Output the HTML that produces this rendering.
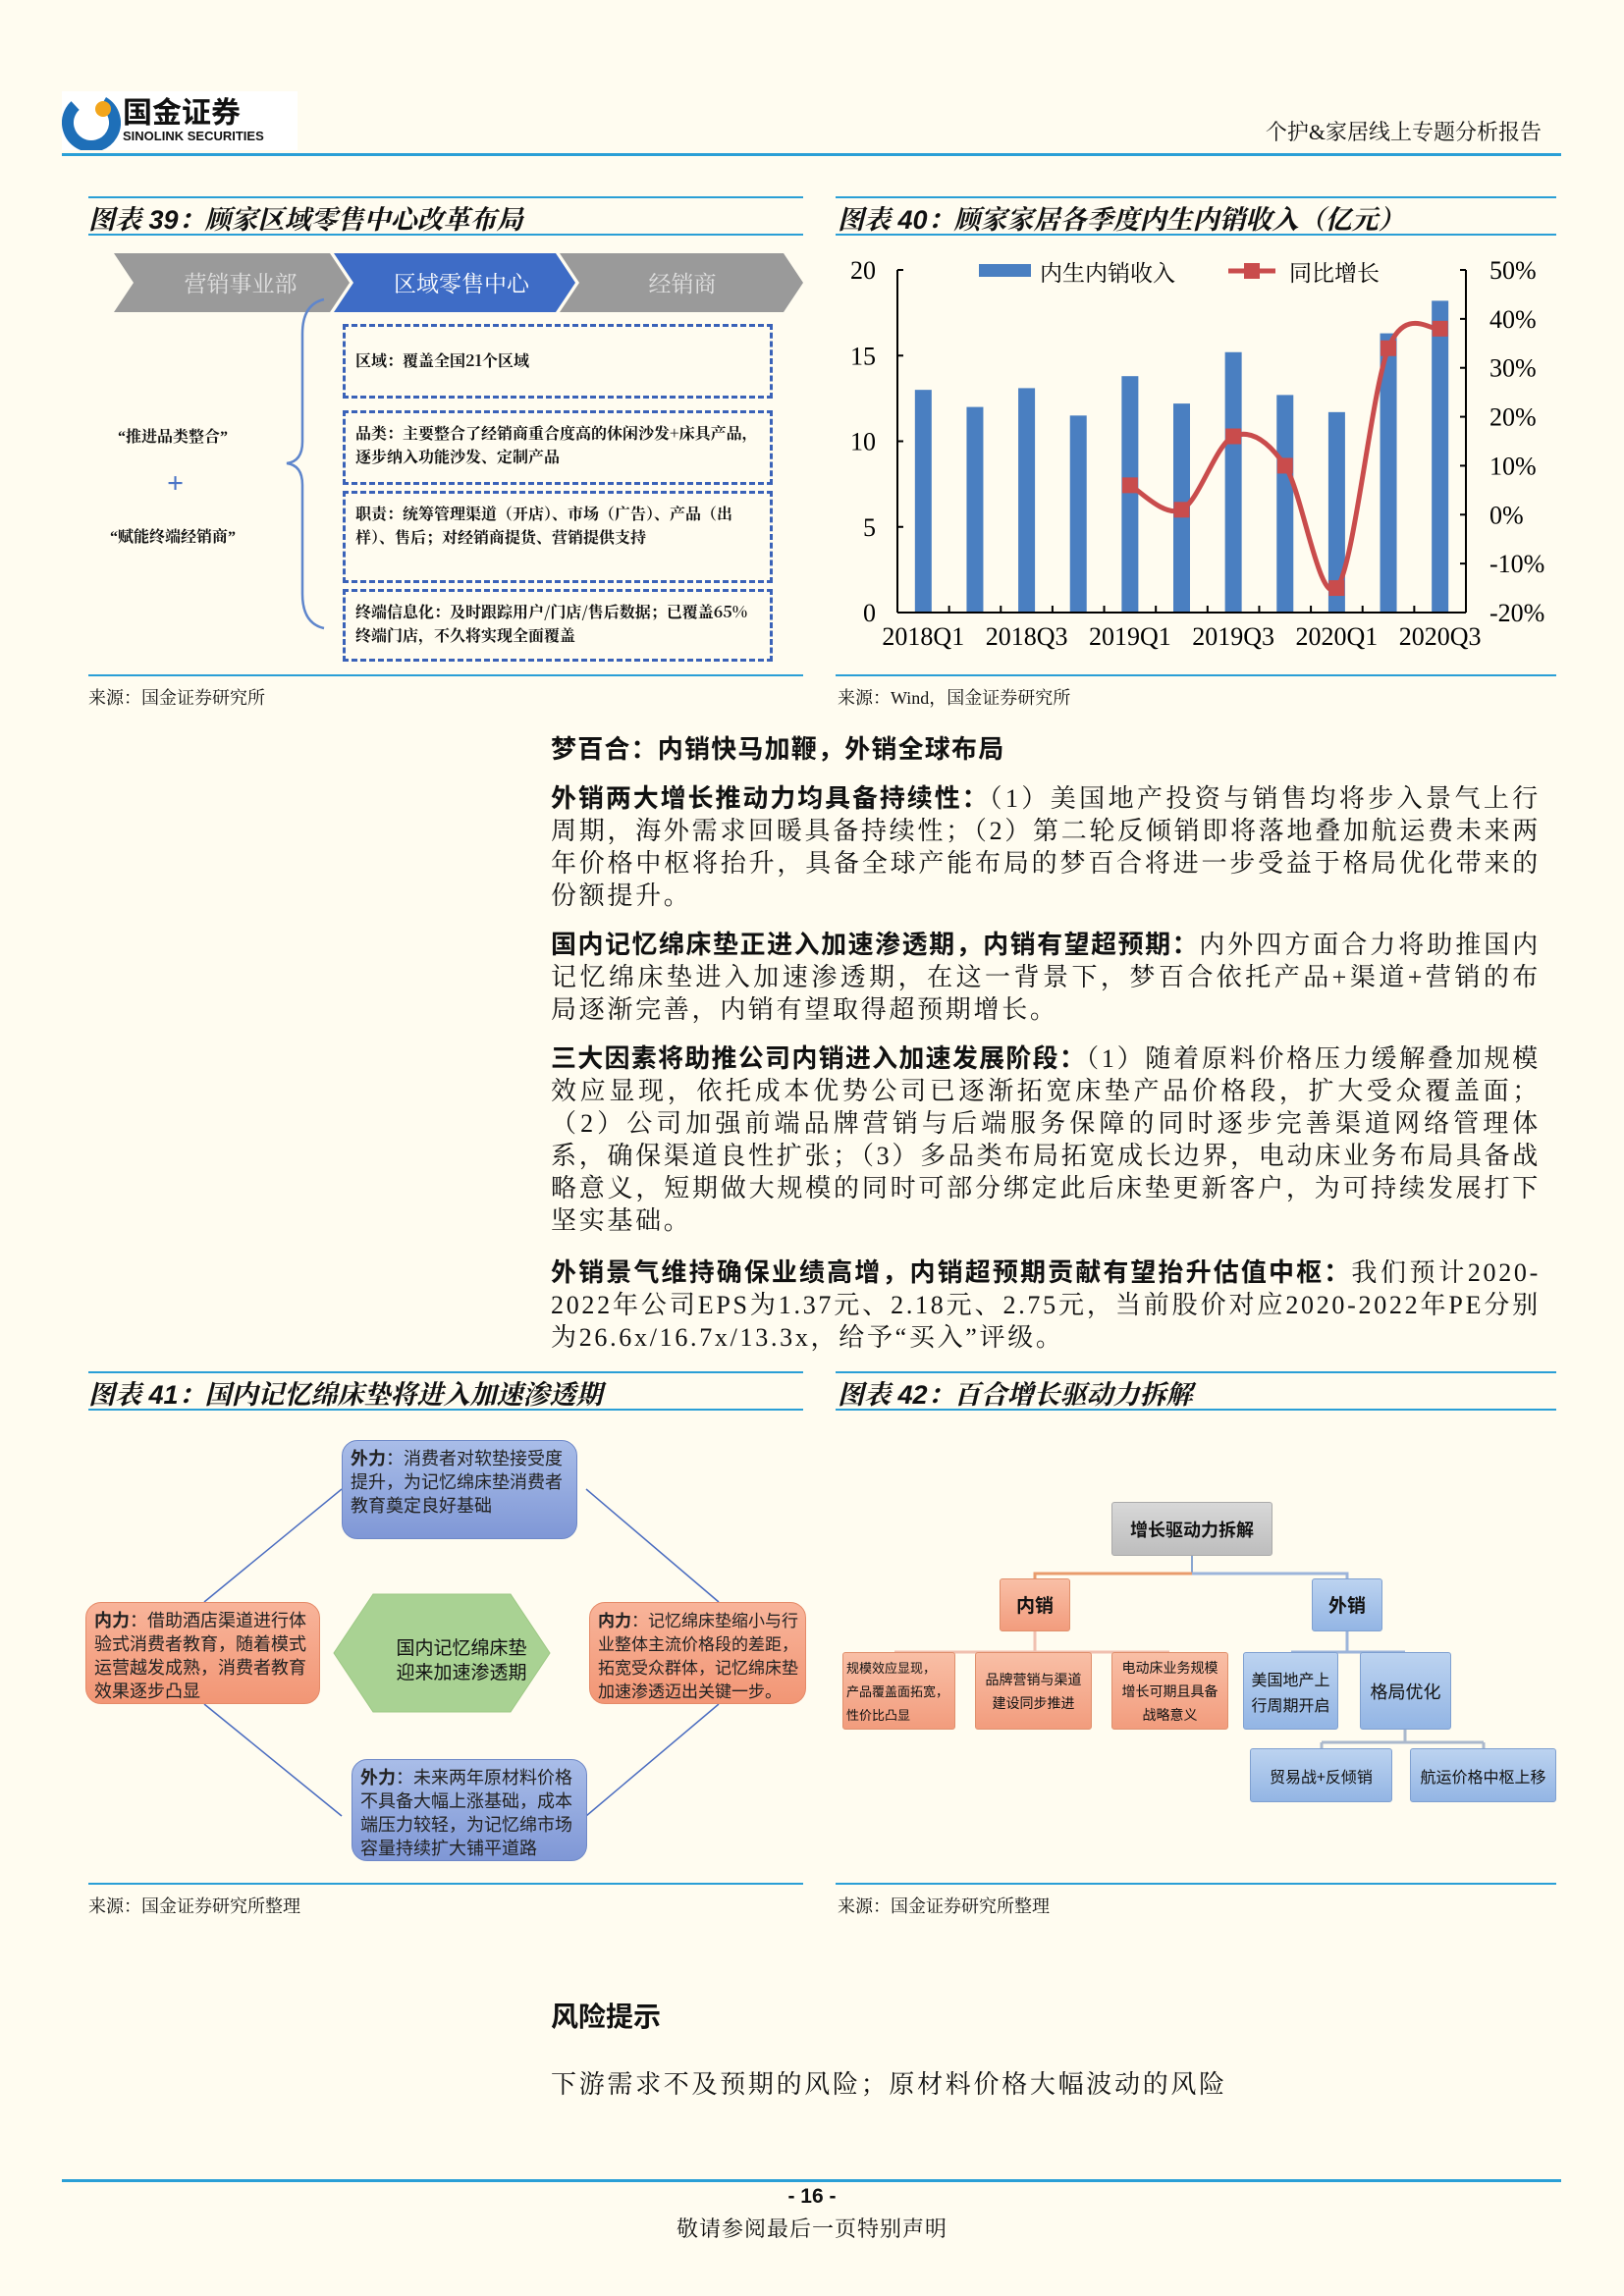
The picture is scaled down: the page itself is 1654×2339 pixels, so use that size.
<!DOCTYPE html>
<html><head><meta charset="utf-8">
<style>
*{margin:0;padding:0;box-sizing:border-box}
body{width:1654px;height:2339px;background:#fffcf0;position:relative;overflow:hidden;font-family:"Liberation Serif","Noto Serif CJK SC",serif;color:#111}
.abs{position:absolute}
.hline{position:absolute;height:2px;background:#2a9fd6}
.ttl{position:absolute;font-family:"Liberation Sans","Noto Serif CJK SC",serif;font-weight:bold;font-style:italic;font-size:27px;white-space:nowrap}
.src{position:absolute;font-size:18px;white-space:nowrap}
.para{position:absolute;left:561px;width:1008px;font-size:26px;line-height:33px;text-align:justify;letter-spacing:2.7px}
.para b{font-family:"Noto Sans CJK SC",sans-serif;font-weight:bold;letter-spacing:1.2px}
.dbox{position:absolute;left:349px;width:438px;border:3px dashed #3a62b8;font-size:16px;font-weight:bold;padding:8px 10px;line-height:24px;font-family:"Noto Serif CJK SC",serif}
.rb{position:absolute;border-radius:16px;font-family:"Noto Sans CJK SC",sans-serif;font-size:18px;line-height:24px;padding:5px 8px;color:#222;overflow:hidden}
.blue{background:linear-gradient(#a9bde8,#7f97d6);border:1px solid #6e88c8}
.ora{background:linear-gradient(#f8b49a,#f29675);border:1px solid #e58a68}
.ob{position:absolute;background:linear-gradient(#f9bfa6,#f29c7d);border:1px solid #e0906c;font-family:"Noto Sans CJK SC",sans-serif;font-size:14px;line-height:24px;display:flex;align-items:center;justify-content:center;text-align:center;border-radius:3px}
.bb{position:absolute;background:linear-gradient(#bcd3f0,#93b5e4);border:1px solid #7fa0d0;font-family:"Noto Sans CJK SC",sans-serif;font-size:16px;line-height:26px;display:flex;align-items:center;justify-content:center;text-align:center;border-radius:3px}
</style></head><body>
<div class="abs" style="left:63px;top:93px;width:240px;height:60px;background:#fff">
<svg width="60" height="60" style="position:absolute;left:0;top:0"><circle cx="30" cy="32" r="24" fill="none" stroke="#1e6fb8" stroke-width="12" stroke-dasharray="120 40" transform="rotate(-60 30 32)"/><circle cx="42" cy="18" r="8" fill="#f2a51c"/></svg>
<div class="abs" style="left:62px;top:2px;font-family:'Noto Sans CJK SC',sans-serif;font-weight:bold;font-size:30px;line-height:34px">国金证券</div>
<div class="abs" style="left:62px;top:38px;font-family:'Liberation Sans',sans-serif;font-weight:bold;font-size:13px">SINOLINK SECURITIES</div>
</div>
<div class="abs" style="right:84px;top:118px;font-size:22px;white-space:nowrap">个护&amp;家居线上专题分析报告</div>
<div class="hline" style="left:63px;top:156px;width:1527px;height:3px"></div>

<div class="hline" style="left:90px;top:200px;width:728px"></div>
<div class="ttl" style="left:90px;top:202px">图表 39：顾家区域零售中心改革布局</div>
<div class="hline" style="left:90px;top:238px;width:728px"></div>
<svg class="abs" style="left:110px;top:255px" width="712" height="66">
<polygon points="6,3 226,3 246,33 226,63 6,63 26,33" fill="#9a9a9a"/>
<polygon points="230,3 456,3 476,33 456,63 230,63 250,33" fill="#3e6cc6"/>
<polygon points="460,3 688,3 708,33 688,63 460,63 480,33" fill="#9a9a9a"/>
<text x="135" y="42" fill="#e0e0e0" font-size="23" text-anchor="middle" font-family="Noto Serif CJK SC">营销事业部</text>
<text x="360" y="42" fill="#fff" font-size="23" text-anchor="middle" font-family="Noto Serif CJK SC">区域零售中心</text>
<text x="585" y="42" fill="#e0e0e0" font-size="23" text-anchor="middle" font-family="Noto Serif CJK SC">经销商</text>
</svg>
<div class="dbox" style="top:330px;height:76px;padding-top:22px">区域：覆盖全国21个区域</div>
<div class="dbox" style="top:418px;height:76px">品类：主要整合了经销商重合度高的休闲沙发+床具产品，逐步纳入功能沙发、定制产品</div>
<div class="dbox" style="top:500px;height:94px">职责：统筹管理渠道（开店）、市场（广告）、产品（出样）、售后；对经销商提货、营销提供支持</div>
<div class="dbox" style="top:600px;height:74px">终端信息化：及时跟踪用户/门店/售后数据；已覆盖65%终端门店，不久将实现全面覆盖</div>
<svg class="abs" style="left:290px;top:300px" width="50" height="345"><path d="M40,5 Q18,10 18,40 L18,150 Q18,170 2,172 Q18,174 18,194 L18,305 Q18,335 40,340" fill="none" stroke="#5f86cc" stroke-width="2.5"/></svg>
<div class="abs" style="left:120px;top:432px;font-size:16px;font-weight:bold">“推进品类整合”</div>
<div class="abs" style="left:170px;top:476px;font-size:30px;font-weight:bold;color:#4a74c6">+</div>
<div class="abs" style="left:112px;top:534px;font-size:16px;font-weight:bold">“赋能终端经销商”</div>
<div class="hline" style="left:90px;top:687px;width:728px"></div>
<div class="src" style="left:90px;top:697px">来源：国金证券研究所</div>

<div class="hline" style="left:851px;top:200px;width:734px"></div>
<div class="ttl" style="left:853px;top:202px">图表 40：顾家家居各季度内生内销收入（亿元）</div>
<div class="hline" style="left:851px;top:238px;width:734px"></div>
<svg id="c40" class="abs" style="left:851px;top:240px" width="740" height="440"></svg>
<div class="hline" style="left:851px;top:687px;width:734px"></div>
<div class="src" style="left:853px;top:697px">来源：Wind，国金证券研究所</div>

<div class="para" style="top:745px;letter-spacing:2px"><b>梦百合：内销快马加鞭，外销全球布局</b></div>
<div class="para" style="top:795px"><b>外销两大增长推动力均具备持续性：</b>（1）美国地产投资与销售均将步入景气上行周期，海外需求回暖具备持续性；（2）第二轮反倾销即将落地叠加航运费未来两年价格中枢将抬升，具备全球产能布局的梦百合将进一步受益于格局优化带来的份额提升。</div>
<div class="para" style="top:944px"><b>国内记忆绵床垫正进入加速渗透期，内销有望超预期：</b>内外四方面合力将助推国内记忆绵床垫进入加速渗透期，在这一背景下，梦百合依托产品+渠道+营销的布局逐渐完善，内销有望取得超预期增长。</div>
<div class="para" style="top:1060px"><b>三大因素将助推公司内销进入加速发展阶段：</b>（1）随着原料价格压力缓解叠加规模效应显现，依托成本优势公司已逐渐拓宽床垫产品价格段，扩大受众覆盖面；（2）公司加强前端品牌营销与后端服务保障的同时逐步完善渠道网络管理体系，确保渠道良性扩张；（3）多品类布局拓宽成长边界，电动床业务布局具备战略意义，短期做大规模的同时可部分绑定此后床垫更新客户，为可持续发展打下坚实基础。</div>
<div class="para" style="top:1278px"><b>外销景气维持确保业绩高增，内销超预期贡献有望抬升估值中枢：</b>我们预计2020-2022年公司EPS为1.37元、2.18元、2.75元，当前股价对应2020-2022年PE分别为26.6x/16.7x/13.3x，给予“买入”评级。</div>

<div class="hline" style="left:90px;top:1397px;width:728px"></div>
<div class="ttl" style="left:90px;top:1399px">图表 41：国内记忆绵床垫将进入加速渗透期</div>
<div class="hline" style="left:90px;top:1435px;width:728px"></div>
<svg class="abs" style="left:80px;top:1440px" width="760" height="480">
<path d="M128,192 L268,77 M517,77 L652,192 M652,296 L517,410 M128,296 L268,410" stroke="#4a6cc0" stroke-width="1.5" fill="none"/>
<polygon points="300,184 440,184 480,244 440,304 300,304 260,244" fill="#a9d293" stroke="#9cc884"/>
</svg>
<div class="rb blue" style="left:348px;top:1467px;width:240px;height:101px"><b>外力</b>：消费者对软垫接受度提升，为记忆绵床垫消费者教育奠定良好基础</div>
<div class="rb ora" style="left:87px;top:1632px;width:239px;height:104px"><b>内力</b>：借助酒店渠道进行体验式消费者教育，随着模式运营越发成熟，消费者教育效果逐步凸显</div>
<div class="abs" style="left:360px;top:1665px;width:220px;text-align:center;font-family:'Noto Sans CJK SC',sans-serif;font-size:19px;line-height:25px">国内记忆绵床垫<br>迎来加速渗透期</div>
<div class="rb ora" style="left:600px;top:1632px;width:221px;height:104px;padding-right:2px;font-size:17px"><b>内力</b>：记忆绵床垫缩小与行业整体主流价格段的差距，拓宽受众群体，记忆绵床垫加速渗透迈出关键一步。</div>
<div class="rb blue" style="left:358px;top:1792px;width:240px;height:104px"><b>外力</b>：未来两年原材料价格不具备大幅上涨基础，成本端压力较轻，为记忆绵市场容量持续扩大铺平道路</div>
<div class="hline" style="left:90px;top:1918px;width:728px"></div>
<div class="src" style="left:90px;top:1928px">来源：国金证券研究所整理</div>

<div class="hline" style="left:851px;top:1397px;width:734px"></div>
<div class="ttl" style="left:853px;top:1399px">图表 42：百合增长驱动力拆解</div>
<div class="hline" style="left:851px;top:1435px;width:734px"></div>
<svg class="abs" style="left:851px;top:1440px" width="740" height="480">
<path d="M363,145 L363,163" stroke="#8aa6d0" stroke-width="2"/>
<path d="M203,163 L363,163 L203,163 L203,168" stroke="#e89b6c" stroke-width="3" fill="none"/>
<path d="M363,163 L521,163 L521,168" stroke="#9cb4da" stroke-width="3" fill="none"/>
<path d="M203,222 L203,243 M60,243 L340,243 M60,243 L60,250 M203,243 L203,250 M340,243 L340,250" stroke="#f0c0b0" stroke-width="3" fill="none"/>
<path d="M521,222 L521,243 M464,243 L580,243 M464,243 L464,250 M580,243 L580,250" stroke="#9cb4da" stroke-width="3" fill="none"/>
<path d="M580,322 L580,335 M495,335 L660,335 M495,335 L495,341 M660,335 L660,341" stroke="#aab8cc" stroke-width="3" fill="none"/>
</svg>
<div class="bb" style="left:1132px;top:1530px;width:164px;height:55px;background:linear-gradient(#d8d8d8,#bdbdbd);border-color:#aaa;font-weight:bold;font-size:18px">增长驱动力拆解</div>
<div class="ob" style="left:1018px;top:1608px;width:72px;height:54px;font-weight:bold;font-size:19px">内销</div>
<div class="bb" style="left:1336px;top:1608px;width:72px;height:54px;font-weight:bold;font-size:19px">外销</div>
<div class="ob" style="left:858px;top:1683px;width:115px;height:79px;justify-content:flex-start;text-align:left;padding-left:3px;font-size:13px">规模效应显现，<br>产品覆盖面拓宽，<br>性价比凸显</div>
<div class="ob" style="left:993px;top:1683px;width:119px;height:79px">品牌营销与渠道<br>建设同步推进</div>
<div class="ob" style="left:1132px;top:1683px;width:119px;height:79px">电动床业务规模<br>增长可期且具备<br>战略意义</div>
<div class="bb" style="left:1266px;top:1683px;width:97px;height:79px">美国地产上<br>行周期开启</div>
<div class="bb" style="left:1385px;top:1683px;width:93px;height:79px;font-size:18px">格局优化</div>
<div class="bb" style="left:1273px;top:1781px;width:145px;height:55px">贸易战+反倾销</div>
<div class="bb" style="left:1436px;top:1781px;width:149px;height:55px">航运价格中枢上移</div>
<div class="hline" style="left:851px;top:1918px;width:734px"></div>
<div class="src" style="left:853px;top:1928px">来源：国金证券研究所整理</div>

<div class="abs" style="left:561px;top:2033px;font-family:'Noto Sans CJK SC',sans-serif;font-weight:bold;font-size:28px">风险提示</div>
<div class="abs" style="left:561px;top:2103px;font-size:26px;letter-spacing:2.7px;white-space:nowrap">下游需求不及预期的风险；原材料价格大幅波动的风险</div>

<div class="hline" style="left:63px;top:2220px;width:1527px;height:3px"></div>
<div class="abs" style="left:0;width:1654px;top:2226px;text-align:center;font-family:'Liberation Sans',sans-serif;font-weight:bold;font-size:21px">- 16 -</div>
<div class="abs" style="left:0;width:1654px;top:2254px;text-align:center;font-size:22px;letter-spacing:1px">敬请参阅最后一页特别声明</div>

<script>
const categories=["2018Q1","2018Q2","2018Q3","2018Q4","2019Q1","2019Q2","2019Q3","2019Q4","2020Q1","2020Q2","2020Q3"];
const revenue=[13.0,12.0,13.1,11.5,13.8,12.2,15.2,12.7,11.7,16.3,18.2];
const growth=[null,null,null,null,6,1,16,10,-15,34,38];
const leftTicks=[0,5,10,15,20];
const rightTicks=[-20,-10,0,10,20,30,40,50];
const xLabels=["2018Q1","2018Q3","2019Q1","2019Q3","2020Q1","2020Q3"];
(function(){
const svg=document.getElementById('c40');const NS='http://www.w3.org/2000/svg';
const L=63,R=642,T=35,B=384;
const n=categories.length,bw=(R-L)/n;
const x=i=>L+bw*(i+0.5);
const yl=v=>B-(v-0)/(20-0)*(B-T);
const yr=v=>B-(v+20)/(70)*(B-T);
function el(t,a,txt){const e=document.createElementNS(NS,t);for(const k in a)e.setAttribute(k,a[k]);if(txt!==undefined)e.textContent=txt;svg.appendChild(e);return e;}
revenue.forEach((v,i)=>{const r=el('rect',{x:x(i)-8.5,y:yl(v),width:17,height:B-yl(v),fill:'#4a7fc1'});

});
el('line',{x1:L,y1:T,x2:L,y2:B,stroke:'#000','stroke-width':2});
el('line',{x1:R,y1:T,x2:R,y2:B,stroke:'#000','stroke-width':2});
el('line',{x1:L,y1:B,x2:R,y2:B,stroke:'#000','stroke-width':2});
leftTicks.forEach(v=>{el('line',{x1:L,y1:yl(v),x2:L+6,y2:yl(v),stroke:'#000','stroke-width':2});
const t=el('text',{x:L-22,y:yl(v)+9,'font-size':26,'text-anchor':'end','font-family':'Liberation Serif'},v);

});
rightTicks.forEach(v=>{el('line',{x1:R-6,y1:yr(v),x2:R,y2:yr(v),stroke:'#000','stroke-width':2});
const t=el('text',{x:R+24,y:yr(v)+9,'font-size':26,'font-family':'Liberation Serif'},v+'%');

});
for(let i=0;i<=n;i++)el('line',{x1:L+bw*i,y1:B,x2:L+bw*i,y2:B-7,stroke:'#000','stroke-width':2});
xLabels.forEach((lab,k)=>{const i=categories.indexOf(lab);const t=el('text',{x:x(i),y:B+33,'font-size':26,'text-anchor':'middle','font-family':'Liberation Serif'},lab);

});
const pts=[];growth.forEach((g,i)=>{if(g!==null)pts.push([x(i),yr(g)]);});
let d='M'+pts[0][0]+','+pts[0][1];
for(let i=0;i<pts.length-1;i++){const p0=pts[i-1]||pts[i],p1=pts[i],p2=pts[i+1],p3=pts[i+2]||p2;
d+=' C'+(p1[0]+(p2[0]-p0[0])/6)+','+(p1[1]+(p2[1]-p0[1])/6)+' '+(p2[0]-(p3[0]-p1[0])/6)+','+(p2[1]-(p3[1]-p1[1])/6)+' '+p2[0]+','+p2[1];}
const ln=el('path',{d:d,fill:'none',stroke:'#c94c4c','stroke-width':5});


pts.forEach(p=>{const m=el('rect',{x:p[0]-8,y:p[1]-8,width:16,height:16,fill:'#c94c4c'});

});
const ls=el('rect',{x:146,y:29,width:53,height:13,fill:'#4a7fc1'});


const lt=el('text',{x:208,y:46,'font-size':23,'font-family':'Noto Serif CJK SC'},'内生内销收入');


el('line',{x1:400,y1:36,x2:448,y2:36,stroke:'#c94c4c','stroke-width':5});
el('rect',{x:416,y:28,width:16,height:16,fill:'#c94c4c'});
const lt2=el('text',{x:462,y:46,'font-size':23,'font-family':'Noto Serif CJK SC'},'同比增长');


})();
</script>
</body></html>
